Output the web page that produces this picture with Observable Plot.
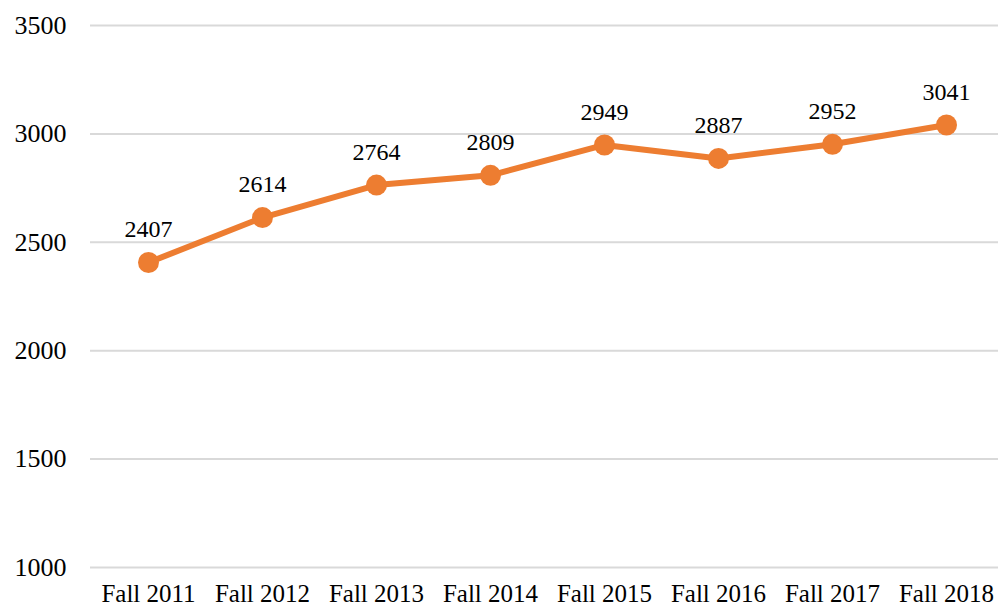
<!DOCTYPE html>
<html><head><meta charset="utf-8">
<script src="https://cdn.jsdelivr.net/npm/d3@7"></script>
<script src="https://cdn.jsdelivr.net/npm/@observablehq/plot@0.6"></script>
<style>
html,body{margin:0;padding:0;background:#fff;overflow:hidden;}
svg{display:block;}
svg, svg text{font-family:"Liberation Serif","Times New Roman",serif !important;}
</style></head>
<body><div id="chart"></div>
<script>
const terms = ["Fall 2011","Fall 2012","Fall 2013","Fall 2014","Fall 2015","Fall 2016","Fall 2017","Fall 2018"];
const values = [2407, 2614, 2764, 2809, 2949, 2887, 2952, 3041];
const yTicks = [1000, 1500, 2000, 2500, 3000, 3500];

const data = terms.map((t, i) => ({term: t, value: values[i]}));
const color = "#ED7D31";
const serif = "Liberation Serif";

const chart = Plot.plot({
  width: 998, height: 611,
  marginLeft: 90, marginRight: 0, marginTop: 25, marginBottom: 44,
  style: {fontFamily: serif, fontSize: "26px", color: "#000", background: "#fff"},
  x: {type: "point", domain: terms, range: [147, 946], padding: 0, label: null},
  y: {domain: [1000, 3500], ticks: yTicks, label: null},
  marks: [
    Plot.gridY(yTicks, {stroke: "#d9d9d9", strokeOpacity: 1, strokeWidth: 2}),
    Plot.axisY(yTicks, {tickSize: 0, tickPadding: 24, fontSize: 26, fontFamily: serif, tickFormat: d => String(d), label: null}),
    Plot.axisX({tickSize: 0, tickPadding: 17, fontSize: 25, fontFamily: serif, label: null}),
    Plot.line(data, {x: "term", y: "value", stroke: color, strokeWidth: 6}),
    Plot.dot(data, {x: "term", y: "value", fill: color, r: 10.5}),
    Plot.text(data, {x: "term", y: "value", text: d => String(d.value), dy: -33, fontSize: 24, fontFamily: serif, fill: "#000"})
  ]
});
chart.setAttribute("font-family", serif);
document.getElementById("chart").appendChild(chart);
</script></body></html>
